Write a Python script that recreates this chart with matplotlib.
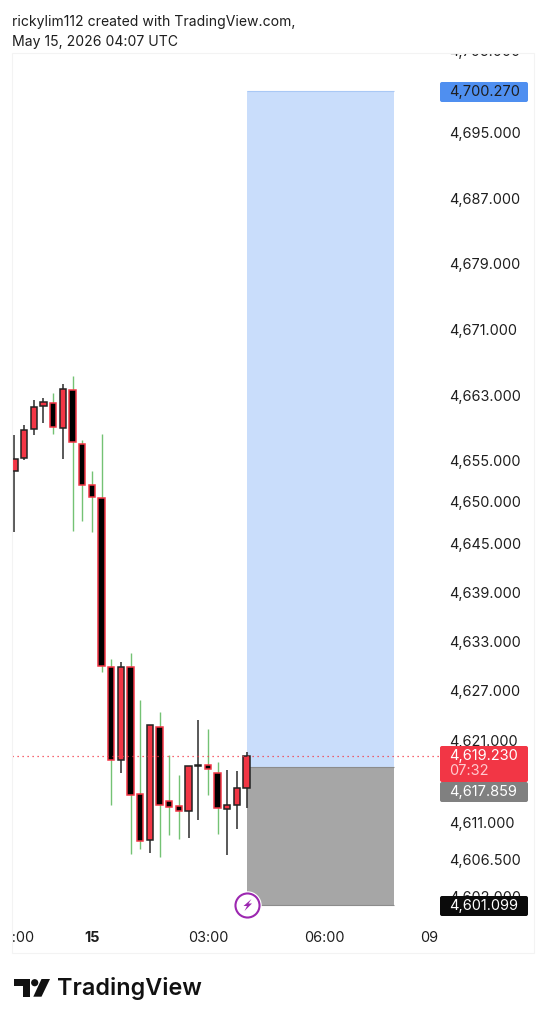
#!/usr/bin/env python3
"""
XAUUSD-style 15 minute candles with a long position box, TradingView snapshot look
"""

import matplotlib
matplotlib.use("Agg")
import matplotlib.pyplot as plt
from matplotlib.patches import Rectangle, FancyBboxPatch, Polygon, Circle
from matplotlib.transforms import Affine2D, Bbox

W, H = 546, 1024
FONT = "Inter"

# Candles, one per 15 minutes
opens = [4654.0, 4655.5, 4659.1, 4661.9, 4662.2, 4659.2, 4663.8, 4657.3, 4652.2, 4650.7,
         4630.1, 4618.7, 4630.1, 4614.6, 4609.0, 4622.8, 4613.8, 4613.1, 4612.6, 4618.0,
         4618.1, 4617.2, 4612.8, 4613.3, 4615.4]
highs = [4658.3, 4659.6, 4662.6, 4662.8, 4663.5, 4664.5, 4665.5, 4657.7, 4653.9, 4658.5,
         4631.0, 4630.7, 4631.8, 4626.0, 4623.0, 4624.6, 4619.4, 4616.9, 4618.0, 4623.6,
         4622.5, 4618.5, 4617.5, 4617.4, 4619.7]
lows = [4646.5, 4655.3, 4658.3, 4659.8, 4658.5, 4655.4, 4646.7, 4647.9, 4646.5, 4629.5,
        4613.3, 4617.2, 4607.3, 4607.9, 4607.4, 4606.9, 4609.6, 4609.1, 4609.2, 4611.4,
        4614.5, 4609.7, 4607.2, 4610.3, 4612.9]
closes = [4655.4, 4658.9, 4661.7, 4662.4, 4659.3, 4663.9, 4657.5, 4652.3, 4650.8, 4630.2,
          4618.7, 4630.1, 4614.5, 4608.9, 4623.0, 4613.3, 4613.0, 4612.5, 4618.0, 4618.1,
          4617.6, 4612.9, 4613.3, 4615.4, 4619.23]

# Position box
box_start = 24
box_end = 39.2
target_price = 4700.270
entry_price = 4617.859
stop_price = 4601.099
last_price = 4619.230
countdown = "07:32"

# Axis labels
price_ticks = [4705, 4695, 4687, 4679, 4671, 4663, 4655, 4650, 4645, 4639, 4633, 4627,
               4621, 4611, 4606.5, 4602]
time_ticks = [0, 8, 20, 32, 44]
time_labels = ["22:00", "15", "03:00", "06:00", "09:00"]

UP_BODY = "#f23645"
DOWN_BODY = "#000000"
UP_WICK = "#2b2b2b"
DOWN_WICK = "#74c274"
TEXT = "#1e1e1e"

fig = plt.figure(figsize=(W / 100, H / 100), dpi=100, facecolor="white")

# Pixel coordinates, origin top left
PX = Affine2D().scale(1 / W, -1 / H).translate(0, 1) + fig.transFigure


def px_box(x0, y0, x1, y1):
    return Bbox.from_extents(x0, H - y1, x1, H - y0)


AX_L, AX_R, AX_T, AX_B = 12, 440, 40, 918
ax = fig.add_axes([AX_L / W, 1 - AX_B / H, (AX_R - AX_L) / W, (AX_B - AX_T) / H])
ax.patch.set_alpha(0)
for side in ax.spines.values():
    side.set_visible(False)

# 9.72 px per bar with bar 0 at x=14.5, 8.21 px per price unit with 4695 at y=134
ax.set_xlim((AX_L - 14.5) / 9.72, (AX_R - 14.5) / 9.72)
ax.set_ylim(4695 - (AX_B - 134) / 8.21, 4695 + (134 - AX_T) / 8.21)

# Position box
ax.add_patch(Rectangle((box_start, entry_price), box_end - box_start, target_price - entry_price,
                       facecolor="#c9ddfb", edgecolor="none", zorder=1))
ax.add_patch(Rectangle((box_start, stop_price), box_end - box_start, entry_price - stop_price,
                       facecolor="#a6a6a6", edgecolor="none", zorder=1))
ax.hlines(target_price, box_start, box_end, color="#a9c8f5", lw=0.8, zorder=1.5)
ax.hlines([entry_price, stop_price], box_start, box_end, color="#8c8c8c", lw=0.8, zorder=1.5)

# Candles
idx = list(range(len(opens)))
for i in idx:
    up = closes[i] >= opens[i]
    ax.vlines(i, lows[i], highs[i], color=UP_WICK if up else DOWN_WICK,
              lw=1.1 if up else 1.0, zorder=2)
    ax.bar(i, abs(closes[i] - opens[i]), bottom=min(opens[i], closes[i]), width=0.64,
           facecolor=UP_BODY if up else DOWN_BODY,
           edgecolor="#222222" if up else UP_BODY, linewidth=1.1, zorder=3)

ax.axhline(last_price, color=UP_BODY, lw=0.9, ls=(0, (1, 3)), zorder=4)

# Lightning badge
ax.scatter([box_start], [stop_price], s=380, color="white", clip_on=False, zorder=5)
ax.scatter([box_start], [stop_price], s=300, facecolor="white", edgecolor="#9c27b0",
           linewidth=1.5, clip_on=False, zorder=6)

# Price and time scales
ax.yaxis.tick_right()
ax.set_yticks(price_ticks)
ax.set_yticklabels([f"{p:,.3f}" for p in price_ticks], fontsize=10.4, family=FONT, color=TEXT)
ax.set_xticks(time_ticks)
ax.set_xticklabels(time_labels, fontsize=10.4, family=FONT, color=TEXT)
ax.tick_params(axis="both", length=0)
ax.tick_params(axis="y", pad=6.5)
ax.tick_params(axis="x", pad=9)
ax.get_xticklabels()[1].set_fontweight("bold")

# Labels get cut at the pane edges, same as in the screenshot
for lab in ax.get_xticklabels():
    lab.set_clip_on(True)
    lab.set_clip_box(px_box(AX_L, 918, 438, 953))
for lab in ax.get_yticklabels():
    lab.set_clip_on(True)
    lab.set_clip_box(px_box(AX_R, 53, 534, 918))
    lab.set_transform(lab.get_transform() + Affine2D().translate(0, 1.5))

# Pane border
fig.add_artist(Rectangle((12, 53), 522, 900, transform=PX, facecolor="none",
                         edgecolor="#f3f3f3", linewidth=0.8))

# Price tags
tags = [
    (82, 102, "#4f8ff0", TEXT),
    (746, 782, UP_BODY, "white"),
    (782, 802, "#808080", "white"),
    (896, 916, "#0b0b0b", "white"),
]
tag_text = [f"{target_price:,.3f}", f"{last_price:,.3f}", f"{entry_price:,.3f}", f"{stop_price:,.3f}"]
for (y0, y1, col, tcol), txt in zip(tags, tag_text):
    fig.add_artist(FancyBboxPatch((441, y0 + 1), 86, y1 - y0 - 2, boxstyle="round,pad=1,rounding_size=2",
                                  transform=PX, facecolor=col, edgecolor="none", zorder=10))
    fig.text(449.5, y0 + 10, txt, transform=PX, fontsize=10.5, family=FONT, color=tcol,
             va="center", ha="left", zorder=11)
fig.text(449.5, 771, countdown, transform=PX, fontsize=10.5, family=FONT, color="#ffc9ce",
         va="center", ha="left", zorder=11)

# Bolt inside the badge
bolt = [(251.5, 899), (243.5, 906), (247, 906), (244.5, 911), (252, 903.5), (248.5, 903.5)]
fig.add_artist(Polygon(bolt, closed=True, transform=PX, facecolor="#9c27b0", edgecolor="none", zorder=10))

# Header
fig.text(12, 22, "rickylim112 created with TradingView.com,", transform=PX, fontsize=10.1,
         family=FONT, color=TEXT, va="center", ha="left")
fig.text(12, 42, "May 15, 2026 04:07 UTC", transform=PX, fontsize=10.1,
         family=FONT, color=TEXT, va="center", ha="left")

# TradingView logo
LOGO = "#111111"
fig.add_artist(Polygon([(14.3, 979), (30, 979), (30, 996.7), (22.7, 996.7), (22.7, 986), (14.3, 986)],
                       closed=True, transform=PX, facecolor=LOGO, edgecolor="none"))
fig.add_artist(Circle((34.7, 982.7), 3.6, transform=PX, facecolor=LOGO, edgecolor="none"))
fig.add_artist(Polygon([(41.5, 979), (50, 979), (41.5, 996.7), (33.3, 996.7)],
                       closed=True, transform=PX, facecolor=LOGO, edgecolor="none"))
fig.text(57, 988.5, "TradingView", transform=PX, fontsize=16.8, family=FONT, fontweight=600,
         color=LOGO, va="center", ha="left")

fig.savefig("out.png", dpi=100, facecolor="white")
